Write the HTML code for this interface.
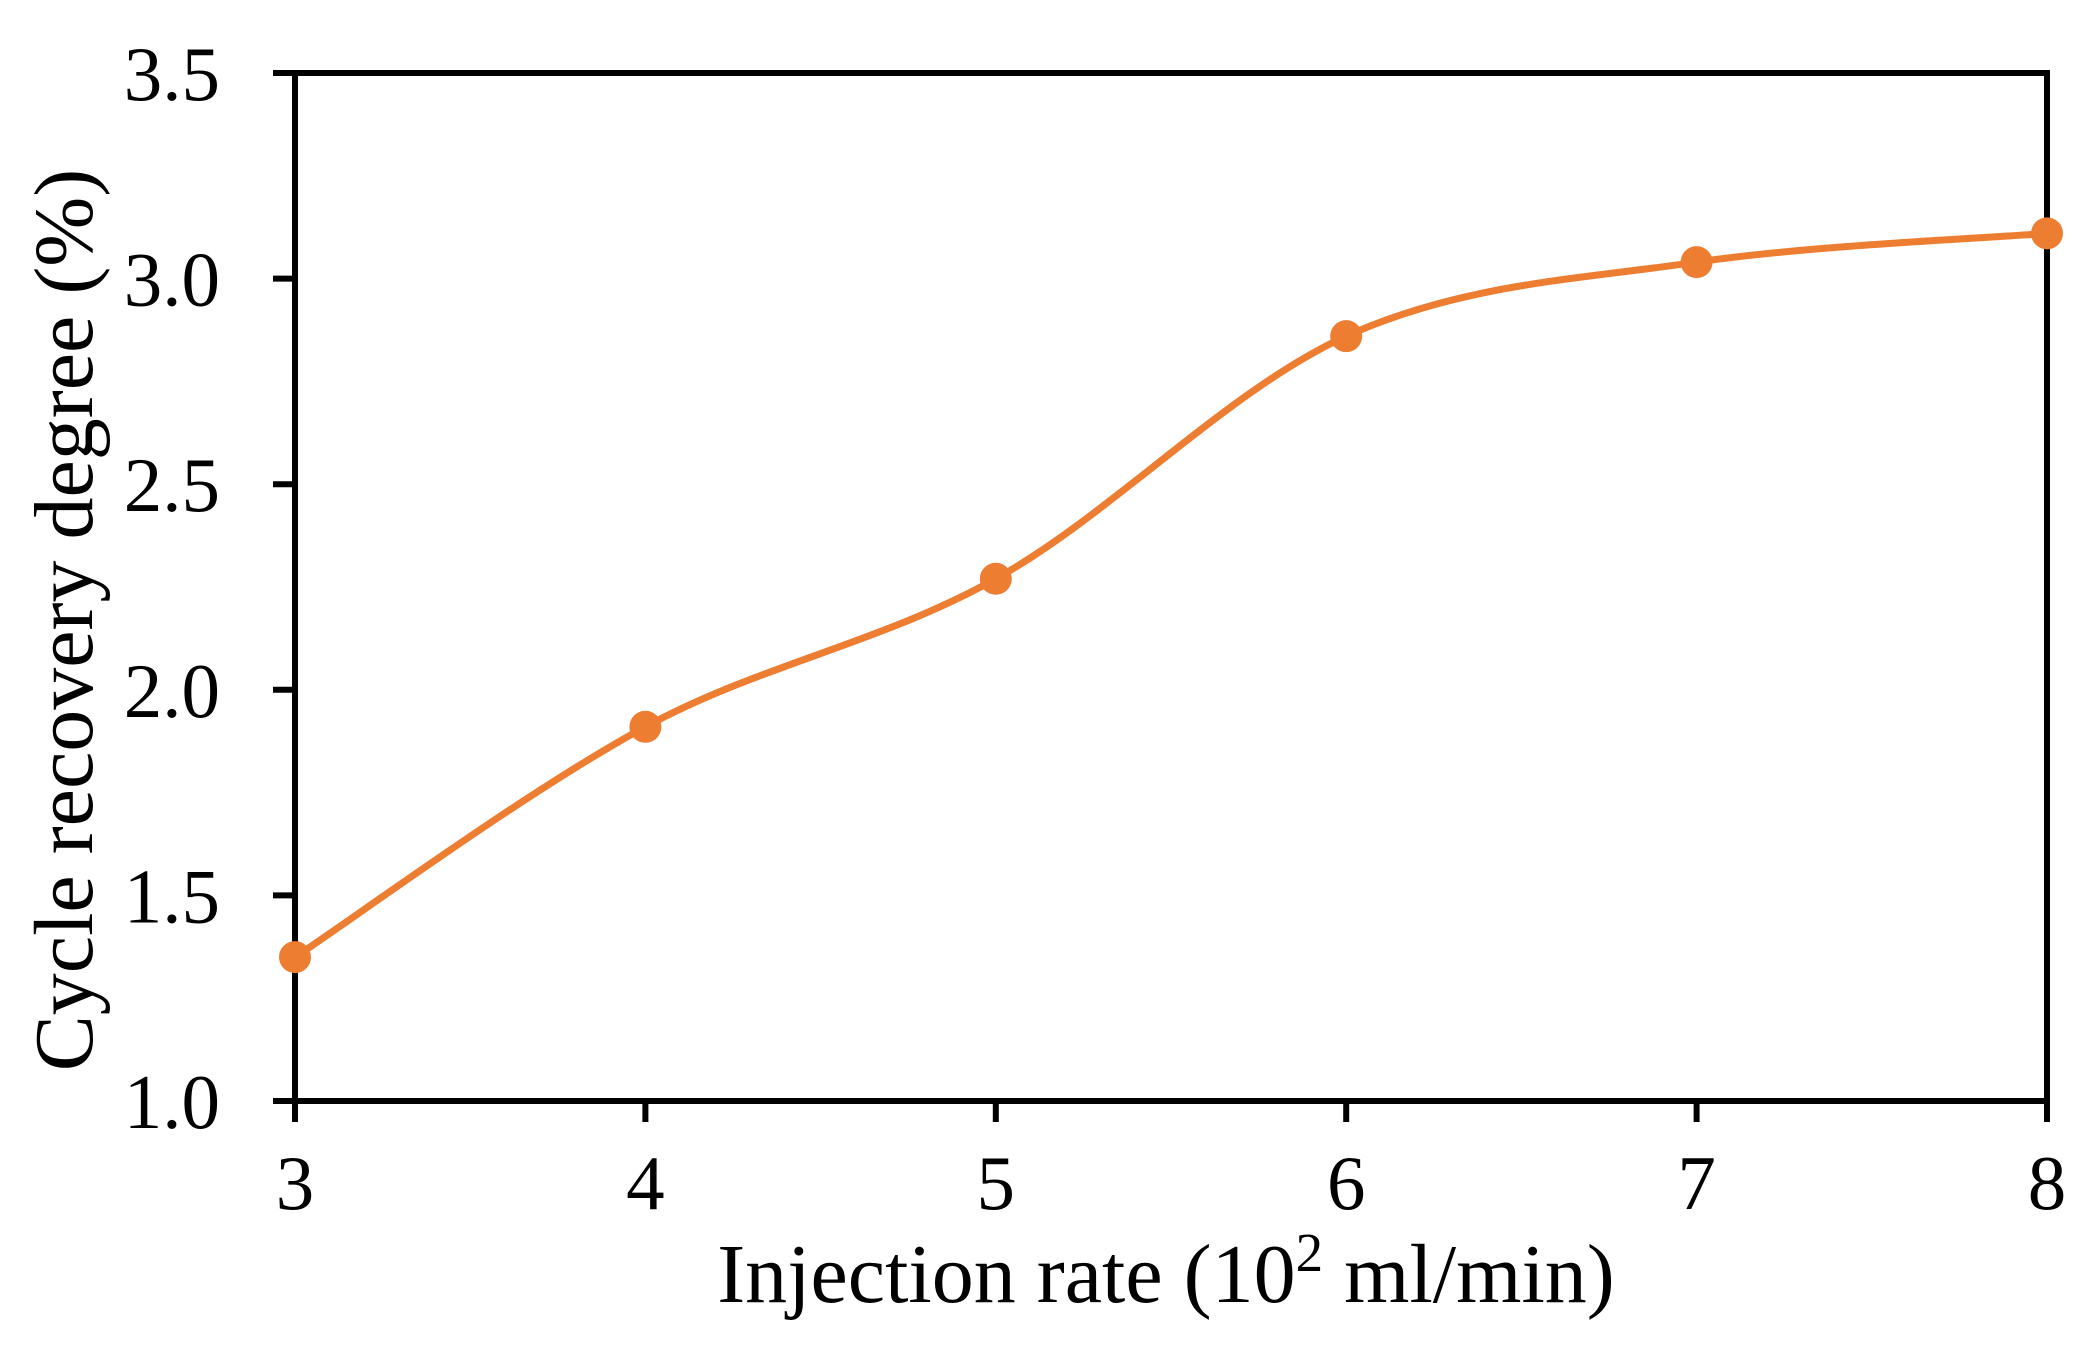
<!DOCTYPE html>
<html><head><meta charset="utf-8"><style>
html,body{margin:0;padding:0;background:#fff;}
svg{display:block;font-family:"Liberation Serif",serif;}
</style></head><body>
<svg id="chart" width="2088" height="1364" viewBox="0 0 2088 1364" xmlns="http://www.w3.org/2000/svg">
<g id="axes"></g>
<g id="series"></g>
<text x="1166" y="1302" font-size="84" text-anchor="middle">Injection rate (10<tspan font-size="55" dy="-31">2</tspan><tspan dy="31"> ml/min)</tspan></text>
<text transform="translate(92,620) rotate(-90)" font-size="84" text-anchor="middle">Cycle recovery degree (%)</text>
</svg>
<script>
const xCategories = [3, 4, 5, 6, 7, 8];
const seriesValues = [1.35, 1.91, 2.27, 2.86, 3.04, 3.11];
const yTickLabels = ["1.0", "1.5", "2.0", "2.5", "3.0", "3.5"];
const xTickLabels = ["3", "4", "5", "6", "7", "8"];

const L = 295, R = 2047, T = 73, B = 1101;
const xMin = 3, xMax = 8, yMin = 1.0, yMax = 3.5;
const xs = v => L + (v - xMin) / (xMax - xMin) * (R - L);
const ys = v => B - (v - yMin) / (yMax - yMin) * (B - T);
const NS = "http://www.w3.org/2000/svg";
function mk(tag, attrs, parent) {
  const e = document.createElementNS(NS, tag);
  for (const k in attrs) e.setAttribute(k, attrs[k]);
  parent.appendChild(e);
  return e;
}
const axes = document.getElementById('axes');
const frame = mk('rect', {x: L, y: T, width: R - L, height: B - T, fill: 'none', stroke: '#000', 'stroke-width': 6}, axes);


yTickLabels.forEach(lbl => {
  const v = parseFloat(lbl), y = ys(v);
  const t = mk('line', {x1: L - 22, x2: L, y1: y, y2: y, stroke: '#000', 'stroke-width': 6}, axes);
  
  
  const tx = mk('text', {x: L - 75, y: y + 27, 'font-size': 77, 'text-anchor': 'end'}, axes);
  tx.textContent = lbl;
  
  
});
xTickLabels.forEach(lbl => {
  const x = xs(parseFloat(lbl));
  const t = mk('line', {x1: x, x2: x, y1: B, y2: B + 21, stroke: '#000', 'stroke-width': 6}, axes);
  
  
  const tx = mk('text', {x: x, y: 1209, 'font-size': 77, 'text-anchor': 'middle'}, axes);
  tx.textContent = lbl;
  
  
});
const ser = document.getElementById('series');
const pts = xCategories.map((c, i) => [xs(c), ys(seriesValues[i])]);
let d = `M${pts[0][0]},${pts[0][1]}`;
for (let i = 0; i < pts.length - 1; i++) {
  const p0 = pts[Math.max(0, i - 1)], p1 = pts[i], p2 = pts[i + 1], p3 = pts[Math.min(pts.length - 1, i + 2)];
  const c1 = [p1[0] + (p2[0] - p0[0]) / 6, p1[1] + (p2[1] - p0[1]) / 6];
  const c2 = [p2[0] - (p3[0] - p1[0]) / 6, p2[1] - (p3[1] - p1[1]) / 6];
  d += ` C${c1[0]},${c1[1]} ${c2[0]},${c2[1]} ${p2[0]},${p2[1]}`;
}
const line = mk('path', {d: d, fill: 'none', stroke: '#ED7D31', 'stroke-width': 7}, ser);


pts.forEach(p => {
  const c = mk('circle', {cx: p[0], cy: p[1], r: 16, fill: '#ED7D31'}, ser);
  
  
});
</script>
</body></html>
